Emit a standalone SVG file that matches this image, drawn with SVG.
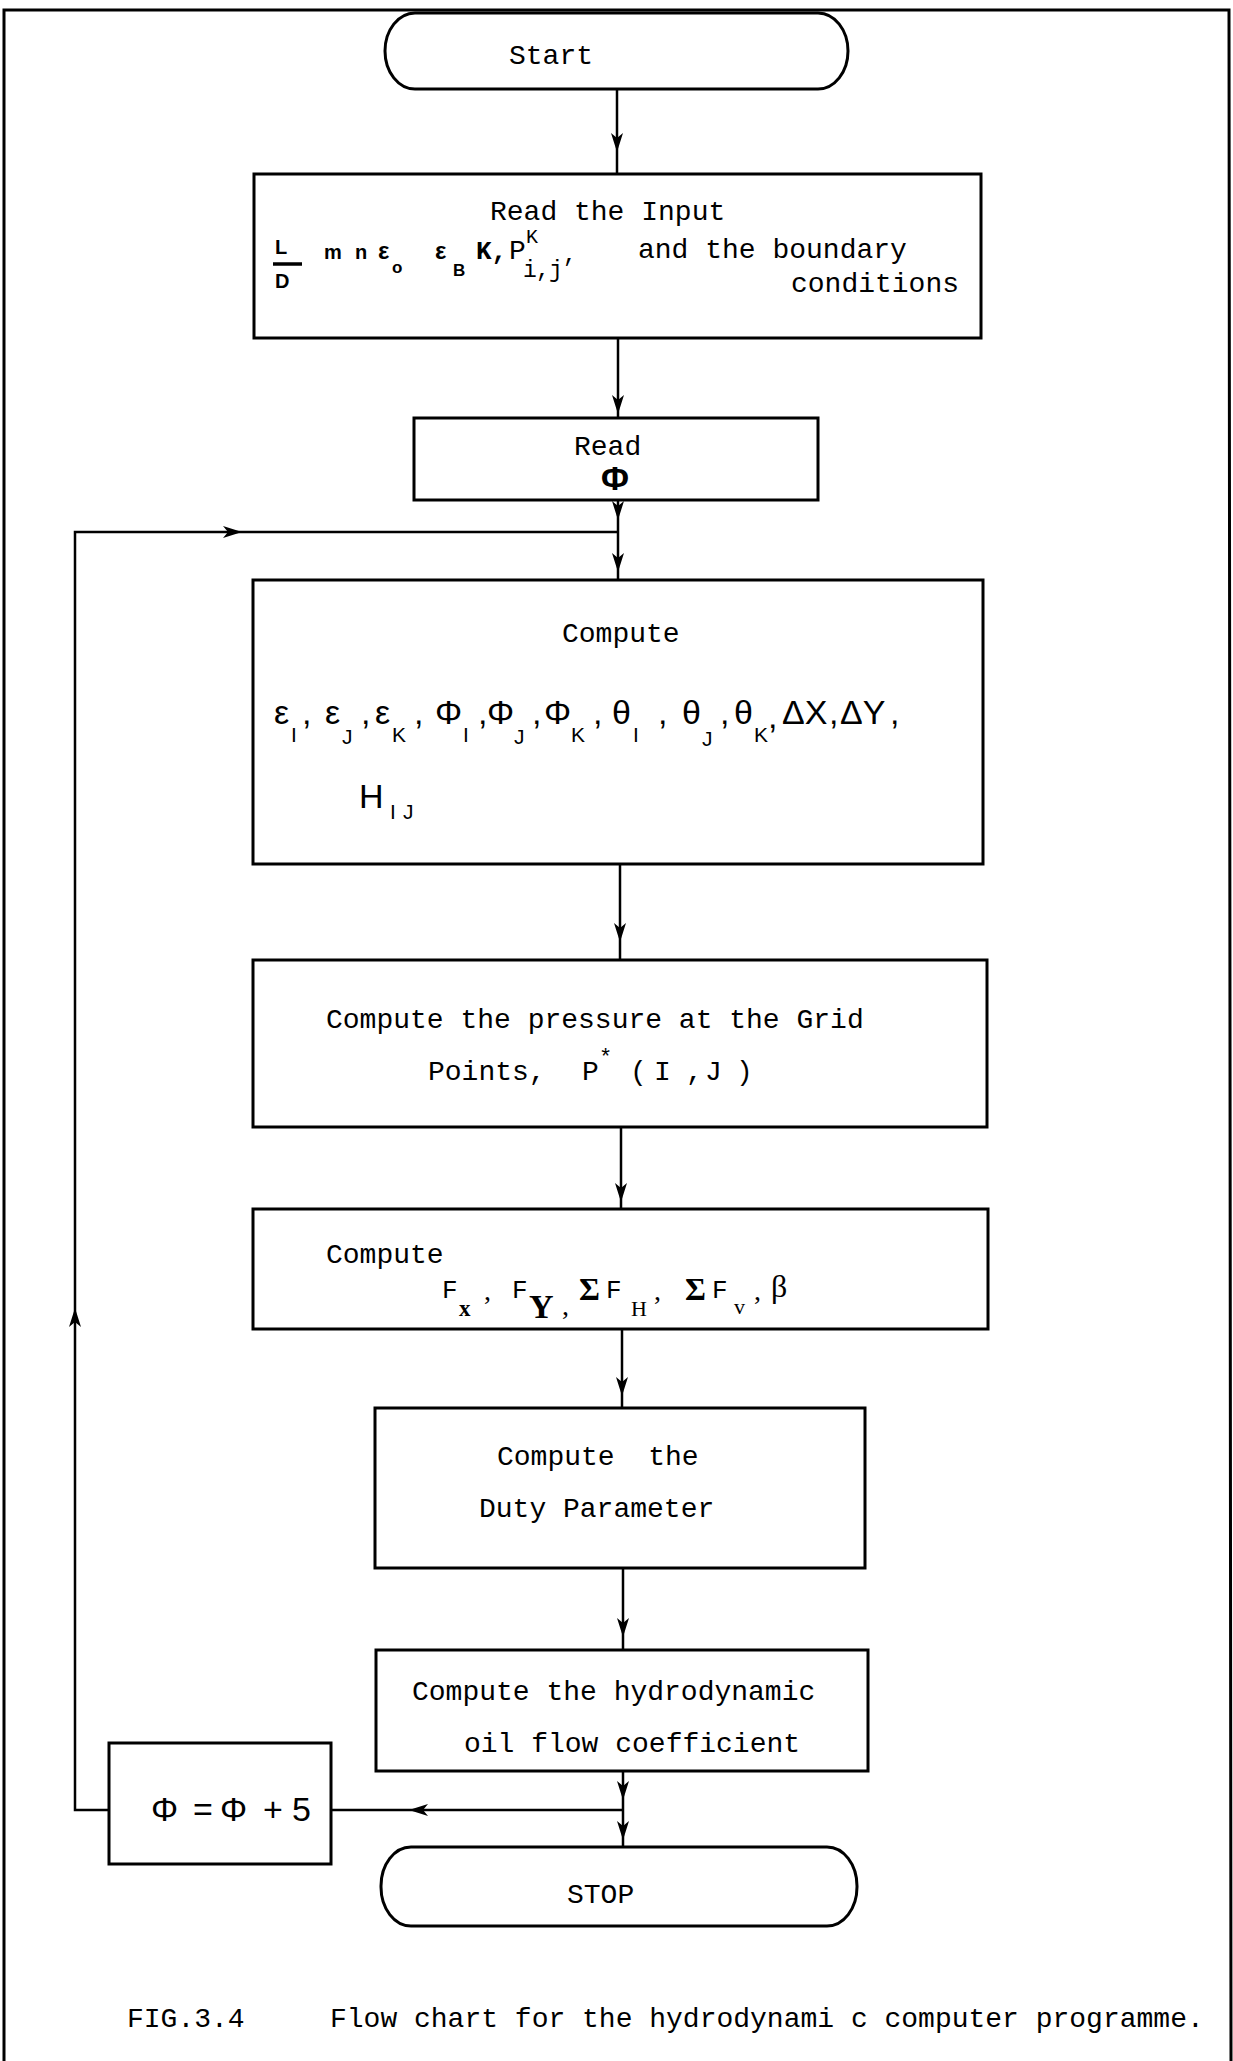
<svg xmlns="http://www.w3.org/2000/svg" width="1233" height="2061" viewBox="0 0 1233 2061">
<style>
.box{fill:#fff;stroke:#000;stroke-width:3}
.frame{fill:none;stroke:#000;stroke-width:3}
.con{fill:none;stroke:#000;stroke-width:2.5}
.t{font-family:"Liberation Mono","DejaVu Sans Mono",monospace;font-size:28px;fill:#000}
.mono{font-family:"Liberation Mono","DejaVu Sans Mono",monospace;fill:#000}
.m{font-family:"Liberation Sans","DejaVu Sans",sans-serif;font-size:34px;fill:#000}
.s{font-family:"Liberation Sans","DejaVu Sans",sans-serif;font-size:21px;fill:#000}
.bs{font-family:"Liberation Sans","DejaVu Sans",sans-serif;font-weight:bold;fill:#000}
.sr{font-family:"Liberation Serif","DejaVu Serif",serif;fill:#000}
</style>
<defs>
<marker id="ah" viewBox="-20 -7 22 14" refX="0" refY="0" markerWidth="22" markerHeight="14" markerUnits="userSpaceOnUse" orient="auto">
<path d="M0,0 L-19,-6 L-14,0 L-19,6 Z" fill="#000"/>
</marker>
</defs>
<rect width="1233" height="2061" fill="#fff"/>
<path class="frame" d="M4,2061 L4,10 L1229,10 L1231,2061"/>

<g id="connectors">
<path class="con" d="M617,89 L617,152 L617,174" marker-mid="url(#ah)"/>
<path class="con" d="M618,338 L618,414 L618,418" marker-mid="url(#ah)"/>
<path class="con" d="M618,500 L618,520 L618,532" marker-mid="url(#ah)"/>
<path class="con" d="M618,532 L618,572 L618,580" marker-mid="url(#ah)"/>
<path class="con" d="M109,1810 L75,1810 L75,1308" marker-end="url(#ah)"/>
<path class="con" d="M75,1308 L75,532 L242,532" marker-end="url(#ah)"/>
<path class="con" d="M242,532 L618,532"/>
<path class="con" d="M620,864 L620,942 L620,960" marker-mid="url(#ah)"/>
<path class="con" d="M621,1127 L621,1202 L621,1209" marker-mid="url(#ah)"/>
<path class="con" d="M622,1329 L622,1396 L622,1408" marker-mid="url(#ah)"/>
<path class="con" d="M623,1568 L623,1637 L623,1650" marker-mid="url(#ah)"/>
<path class="con" d="M623,1771 L623,1800 L623,1810" marker-mid="url(#ah)"/>
<path class="con" d="M623,1810 L623,1840 L623,1847" marker-mid="url(#ah)"/>
<path class="con" d="M623,1810 L409,1810 L331,1810" marker-mid="url(#ah)"/>
</g>

<g id="start">
<rect class="box" x="385" y="13" width="463" height="76" rx="30" ry="38"/>
<text class="t" x="509" y="64">Start</text>
</g>

<g id="read-input">
<rect class="box" x="254" y="174" width="727" height="164"/>
<text class="t" x="490" y="220">Read the Input</text>
<text class="bs" font-size="20"><tspan x="275" y="254">L</tspan><tspan x="275" y="288">D</tspan></text>
<line x1="273" y1="264" x2="302" y2="264" stroke="#000" stroke-width="3.5"/>
<text class="bs" font-size="20"><tspan x="324" y="259">m</tspan><tspan x="355" y="259">n</tspan><tspan x="378" y="259" font-size="24">ε</tspan><tspan x="392" y="273" font-size="17">o</tspan><tspan x="435" y="259" font-size="24">ε</tspan><tspan x="453" y="276" font-size="17">B</tspan></text>
<text class="mono" font-size="28"><tspan x="476" y="259" font-size="26" font-weight="bold">K,</tspan><tspan x="509" y="259">P</tspan><tspan x="526" y="243" font-size="20">K</tspan><tspan x="523" y="277" font-size="23">i</tspan><tspan x="536" y="277" font-size="23">,</tspan><tspan x="549" y="277" font-size="23">j</tspan><tspan x="563" y="262" font-size="23">,</tspan></text>
<text class="t" x="638" y="258">and the boundary</text>
<text class="t" x="791" y="292">conditions</text>
</g>

<g id="read-phi">
<rect class="box" x="414" y="418" width="404" height="82"/>
<text class="t" x="574" y="455">Read</text>
<text class="bs" x="615" y="490" font-size="34" text-anchor="middle">Φ</text>
</g>

<g id="compute-geometry">
<rect class="box" x="253" y="580" width="730" height="284"/>
<text class="t" x="562" y="642">Compute</text>
<text class="m" y="724"><tspan x="274">ε</tspan><tspan class="s" x="291" y="742">I</tspan><tspan x="302" y="724">,</tspan><tspan x="325">ε</tspan><tspan class="s" x="342" y="744">J</tspan><tspan x="361" y="724">,</tspan><tspan x="375">ε</tspan><tspan class="s" x="392" y="742">K</tspan><tspan x="414" y="724">,</tspan><tspan x="435">Φ</tspan><tspan class="s" x="463" y="742">I</tspan><tspan x="478" y="724">,</tspan><tspan x="487">Φ</tspan><tspan class="s" x="514" y="744">J</tspan><tspan x="532" y="724">,</tspan><tspan x="544">Φ</tspan><tspan class="s" x="571" y="742">K</tspan><tspan x="593" y="724">,</tspan><tspan x="612">θ</tspan><tspan class="s" x="633" y="742">I</tspan><tspan x="658" y="724">,</tspan><tspan x="682">θ</tspan><tspan class="s" x="702" y="746">J</tspan><tspan x="720" y="724">,</tspan><tspan x="734">θ</tspan><tspan class="s" x="754" y="742">K</tspan><tspan x="768" y="728">,</tspan><tspan x="782" y="724">ΔX</tspan><tspan x="829">,</tspan><tspan x="840">ΔY</tspan><tspan x="890">,</tspan></text>
<text class="m" x="359" y="808" font-size="36">H<tspan class="s" x="390" y="819">I</tspan><tspan class="s" x="403" y="819">J</tspan></text>
</g>

<g id="compute-pressure">
<rect class="box" x="253" y="960" width="734" height="167"/>
<text class="t" x="326" y="1028">Compute the pressure at the Grid</text>
<text class="t" y="1080"><tspan x="428">Points,</tspan><tspan x="582">P</tspan><tspan x="599" y="1064" font-size="22">*</tspan><tspan x="630" y="1080">(</tspan><tspan x="654">I</tspan><tspan x="686">,</tspan><tspan x="705">J</tspan><tspan x="736">)</tspan></text>
</g>

<g id="compute-forces">
<rect class="box" x="253" y="1209" width="735" height="120"/>
<text class="t" x="326" y="1263">Compute</text>
<text class="sr" font-size="28"><tspan class="mono" x="442" y="1298" font-size="26">F</tspan><tspan x="459" y="1316" font-size="23" font-weight="bold">x</tspan><tspan x="484" y="1300">,</tspan><tspan class="mono" x="512" y="1298" font-size="26">F</tspan><tspan x="529" y="1318" font-size="34" font-weight="bold">Y</tspan><tspan x="562" y="1315">,</tspan><tspan x="579" y="1300" font-size="32" font-weight="bold">Σ</tspan><tspan class="mono" x="606" y="1298" font-size="26">F</tspan><tspan x="631" y="1316" font-size="22">H</tspan><tspan x="654" y="1300">,</tspan><tspan x="685" y="1300" font-size="32" font-weight="bold">Σ</tspan><tspan class="mono" x="712" y="1298" font-size="26">F</tspan><tspan x="734" y="1314" font-size="22">v</tspan><tspan x="754" y="1300">,</tspan><tspan x="771" y="1297" font-size="32">β</tspan></text>
</g>

<g id="duty">
<rect class="box" x="375" y="1408" width="490" height="160"/>
<text class="t" x="497" y="1465" xml:space="preserve">Compute  the</text>
<text class="t" x="479" y="1517">Duty Parameter</text>
</g>

<g id="oil-flow">
<rect class="box" x="376" y="1650" width="492" height="121"/>
<text class="t" x="412" y="1700">Compute the hydrodynamic</text>
<text class="t" x="464" y="1752">oil flow coefficient</text>
</g>

<g id="phi-increment">
<rect class="box" x="109" y="1743" width="222" height="121"/>
<text class="m" y="1821" font-size="31"><tspan x="151">Φ</tspan><tspan x="193">=</tspan><tspan x="220">Φ</tspan><tspan x="263">+</tspan><tspan x="292">5</tspan></text>
</g>

<g id="stop">
<rect class="box" x="381" y="1847" width="476" height="79" rx="30" ry="39"/>
<text class="t" x="567" y="1903">STOP</text>
</g>

<g id="caption">
<text class="t" x="127" y="2027" font-size="27">FIG.3.4</text>
<text class="t" x="330" y="2027" font-size="27">Flow chart for the hydrodynami c computer programme.</text>
</g>
</svg>
